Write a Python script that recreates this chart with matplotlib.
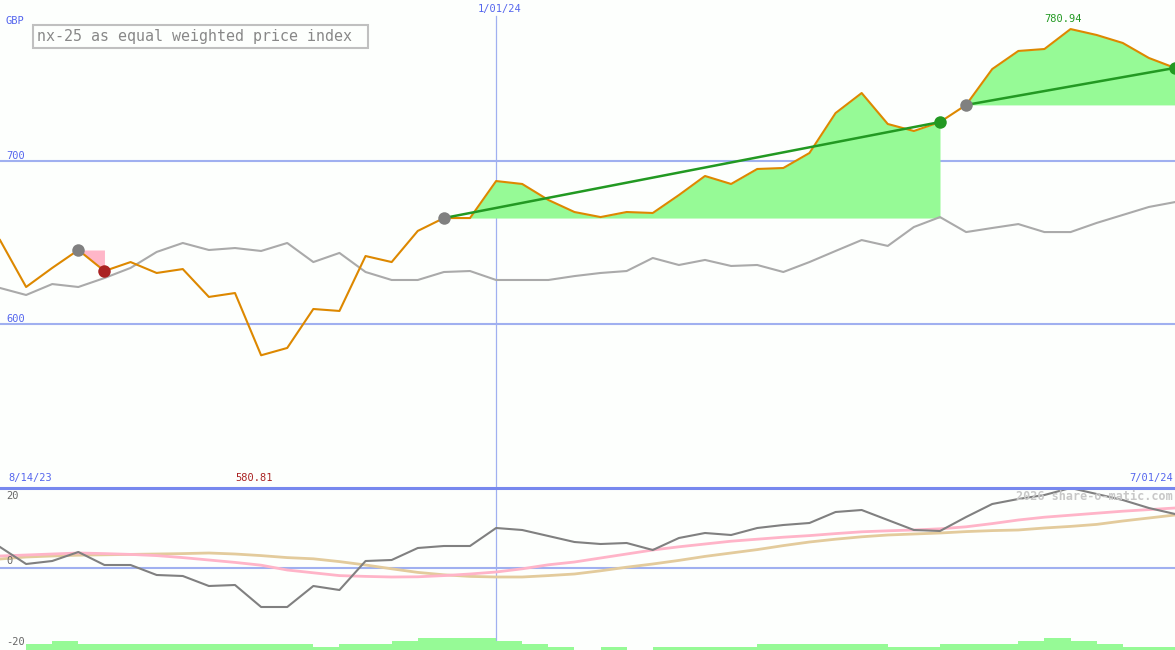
import numpy as np
import pandas as pd
import matplotlib
matplotlib.use("Agg")
import matplotlib.pyplot as plt
from matplotlib.patches import Rectangle

# weekly closes, 8/21/23 .. 7/01/24
dates = pd.date_range("2023-08-21", "2024-07-01", freq="7D")

price = [651.5, 622.7, 634.4, 645.4, 632.5, 638.0, 631.3, 633.7, 616.6, 619.0,
         580.81, 585.3, 609.2, 608.0, 641.7, 638.0, 657.1, 665.0, 665.0, 687.7,
         685.9, 676.1, 668.7, 665.6, 668.7, 668.1, 679.1, 690.8, 685.9, 695.1,
         695.7, 704.9, 729.4, 741.7, 722.7, 718.4, 723.9, 734.4, 756.4, 767.5,
         768.7, 780.94, 777.3, 772.4, 763.2, 757.1]

benchmark = [622.1, 617.8, 624.5, 622.7, 628.2, 634.4, 644.2, 649.7, 645.4, 646.6,
             644.8, 649.7, 638.0, 643.6, 631.9, 627.0, 627.0, 631.9, 632.5, 627.0,
             627.0, 627.0, 629.4, 631.3, 632.5, 640.5, 636.2, 639.3, 635.6, 636.2,
             631.9, 638.0, 644.8, 651.5, 647.9, 659.5, 665.6, 656.4, 658.9, 661.3,
             656.4, 656.4, 662.0, 666.9, 671.8, 674.8]

momentum = [5.25, 1.0, 1.75, 4.0, 0.75, 0.75, -1.75, -2.0, -4.5, -4.25,
            -9.75, -9.75, -4.5, -5.5, 1.75, 2.0, 5.0, 5.5, 5.5, 10.0,
            9.5, 8.0, 6.5, 6.0, 6.25, 4.5, 7.5, 8.75, 8.25, 10.0,
            10.75, 11.25, 14.0, 14.5, 12.0, 9.5, 9.25, 12.75, 16.0, 17.25,
            18.25, 20.0, 18.5, 17.0, 15.0, 13.5]

avg_fast = [3.0, 3.25, 3.5, 3.75, 3.6, 3.4, 3.1, 2.6, 2.0, 1.4,
            0.7, -0.5, -1.2, -1.9, -2.1, -2.25, -2.2, -1.9, -1.5, -1.0,
            -0.2, 0.8, 1.5, 2.5, 3.5, 4.5, 5.3, 6.0, 6.7, 7.2,
            7.7, 8.1, 8.6, 9.05, 9.3, 9.5, 9.8, 10.3, 11.1, 12.0,
            12.7, 13.2, 13.7, 14.2, 14.6, 15.0]

avg_slow = [2.25, 2.75, 3.0, 3.2, 3.3, 3.4, 3.5, 3.6, 3.75, 3.5,
            3.1, 2.6, 2.3, 1.6, 0.75, -0.2, -1.1, -1.7, -2.1, -2.25,
            -2.25, -1.9, -1.5, -0.7, 0.2, 1.0, 1.9, 2.9, 3.75, 4.6,
            5.6, 6.5, 7.2, 7.8, 8.25, 8.5, 8.75, 9.1, 9.35, 9.5,
            10.0, 10.4, 10.9, 11.75, 12.5, 13.25]

# volume bars, one per week interval
volume = [0, 2, 3, 2, 2, 2, 2, 2, 2, 2, 2, 2, 1, 2, 2, 3, 4, 4, 4, 3,
          2, 1, 0, 1, 0, 1, 1, 1, 1, 2, 2, 2, 2, 2, 1, 1, 2, 2, 2, 3,
          4, 3, 2, 1, 1]

# (entry index, exit index)
trades = [(3, 4), (17, 36), (37, 45)]

title = "nx-25 as equal weighted price index"
marker_date = pd.Timestamp("2024-01-01")
start_label = "8/14/23"
end_label = "7/01/24"
watermark = "2026 share-o-matic.com"

W, H = 1175, 650
BG = "#fdfffd"
BLUE = "#5566ee"
GRID = "#a0b0f0"
ORANGE = "#dd8800"
GREEN = "#229922"
FILL = "#96fa96"
MONO = "DejaVu Sans Mono"

price = np.array(price)
fig = plt.figure(figsize=(W / 100, H / 100), dpi=100, facecolor=BG)


def px(x, y):
    return x / W, 1 - y / H


ax = fig.add_axes([0, 163 / H, 1, 487 / H])
ax.set_facecolor(BG)
ax.set_xlim(dates[0], dates[-1])
ax.set_ylim(500, 798.77)
ax.axis("off")

for lvl in (700, 600):
    ax.axhline(lvl, color=GRID, lw=1.5, zorder=1)
ax.axvline(marker_date, ymax=1 - 16 / 487, color=GRID, lw=0.9, zorder=1)

ax.plot(dates, benchmark, color="#aaaaaa", lw=1.5, zorder=3)

for a, b in trades:
    seg = slice(a, b + 1)
    gain = price[b] > price[a]
    ax.fill_between(dates[seg], price[seg], price[a],
                    color=FILL if gain else "#ffb6c8", lw=0, zorder=2)
    if gain:
        ax.plot([dates[a], dates[b]], [price[a], price[b]], color=GREEN, lw=1.8, zorder=5)

ax.plot(dates, price, color=ORANGE, lw=1.5, zorder=4)

for a, b in trades:
    gain = price[b] > price[a]
    ax.plot(dates[a], price[a], "o", ms=9, color="#808080", mec="none", zorder=6)
    ax.plot(dates[b], price[b], "o", ms=9, color=GREEN if gain else "#aa2222",
            mec="none", zorder=6)

imax = int(np.argmax(price))
ax.annotate(f"{price[imax]:.2f}", (dates[imax], price[imax]), xytext=(-8, 10),
            textcoords="offset pixels", ha="center", va="center",
            color=GREEN, fontsize=7.5, family=MONO)

# lower panel
bx = fig.add_axes([0, 0, 1, 163 / H])
bx.set_facecolor(BG)
bx.set_xlim(dates[0], dates[-1])
bx.set_ylim(-20.5, 20.25)
bx.axis("off")

bx.axhline(0, color=GRID, lw=1.5, zorder=1)
bx.axhline(20, color="#7788ee", lw=2.2, zorder=6, clip_on=False)
bx.axvline(marker_date, ymin=9 / 163, color=GRID, lw=0.9, zorder=1)

bx.bar(dates[:-1], np.array(volume) * 0.75, width=7, align="edge", bottom=-20.5,
       color=FILL, lw=0, zorder=2)
bx.plot(dates, avg_slow, color="#e3cb9c", lw=2, zorder=3)
bx.plot(dates, avg_fast, color="#ffb4c8", lw=2, zorder=3)
bx.plot(dates, momentum, color="#808080", lw=1.5, zorder=4)

imin = int(np.argmin(price))
bx.annotate(f"{price[imin]:.2f}", (dates[imin], 20), xytext=(-7, 10),
            textcoords="offset pixels", ha="center", va="center",
            color="#aa2222", fontsize=7.5, family=MONO, annotation_clip=False)

# texts
small = dict(fontsize=7.5, family=MONO, va="center")
fig.text(*px(6, 21), "GBP", color=BLUE, ha="left", **small)
fig.text(*px(6, 156), "700", color=BLUE, ha="left", **small)
fig.text(*px(6, 319), "600", color=BLUE, ha="left", **small)
fig.text(*px(500, 9), marker_date.strftime("%-m/%d/%y"), color=BLUE, ha="center", **small)
fig.text(*px(8, 478), start_label, color=BLUE, ha="left", **small)
fig.text(*px(1173, 478), end_label, color=BLUE, ha="right", **small)
fig.text(*px(6, 496), "20", color="#666666", ha="left", **small)
fig.text(*px(6, 561), "0", color="#666666", ha="left", **small)
fig.text(*px(6, 642), "-20", color="#666666", ha="left", **small)
fig.text(*px(1173, 496), watermark, color="#c8c8c8", ha="right", va="center",
         fontsize=8.5, family=MONO, fontweight="bold")

fig.patches.append(Rectangle(px(33, 48), 335 / W, 23 / H, transform=fig.transFigure,
                             fill=False, ec="#c0c0c0", lw=1.5))
fig.text(*px(37, 37), title, color="#888888", ha="left", va="center",
         fontsize=10.8, family=MONO)

fig.savefig("out.png", dpi=100, facecolor=BG)
